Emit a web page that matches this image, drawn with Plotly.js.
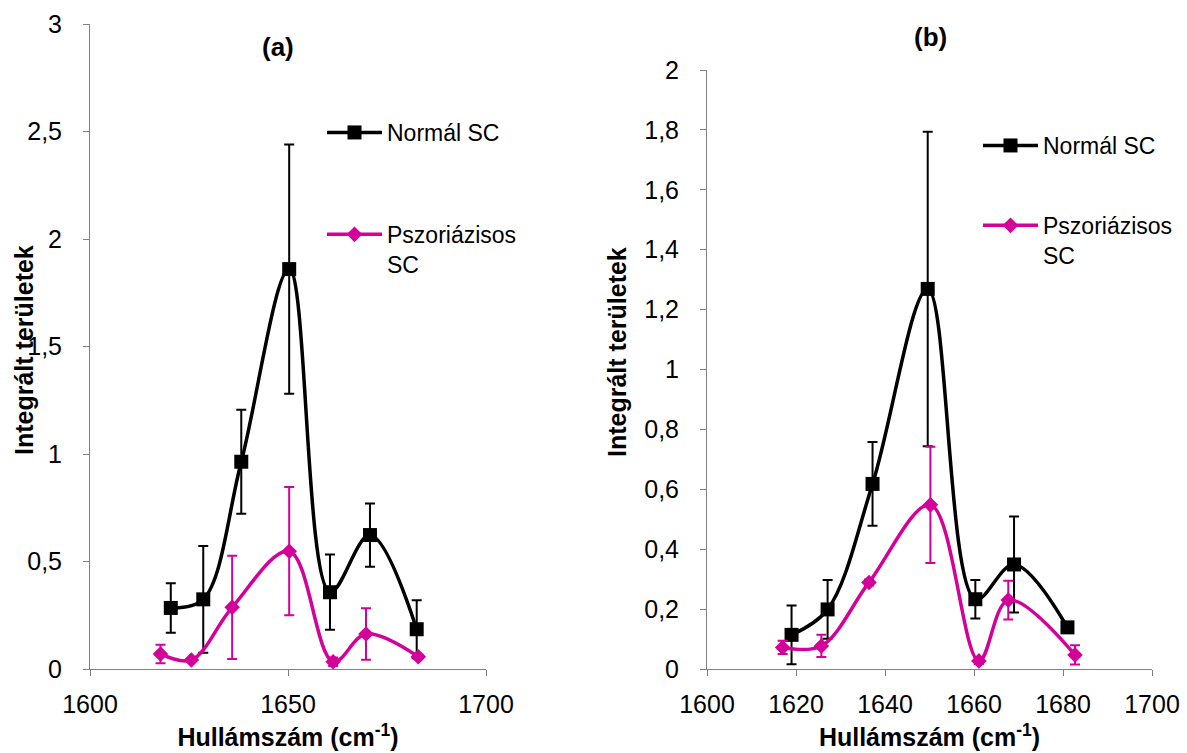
<!DOCTYPE html>
<html>
<head>
<meta charset="utf-8">
<script src="https://cdn.plot.ly/plotly-3.0.1.min.js"></script>
<style>
  html, body { margin: 0; padding: 0; background: #fff; }
  #chart { width: 1187px; height: 753px; }
</style>
</head>
<body>
<div id="chart"></div>
<script>
// ---- Panel (a) data ----
const aNormalX   = [1620.4, 1628.6, 1638.2, 1650.3, 1660.6, 1670.7, 1682.5];
const aNormalY   = [0.284, 0.324, 0.964, 1.860, 0.357, 0.623, 0.185];
const aNormalErr = [0.115, 0.248, 0.242, 0.580, 0.175, 0.147, 0.135];

const aPsorX   = [1617.8, 1625.6, 1635.9, 1650.3, 1661.4, 1669.7, 1682.9];
const aPsorY   = [0.070, 0.042, 0.287, 0.548, 0.034, 0.163, 0.057];
const aPsorErr = [0.043, 0.005, 0.240, 0.298, 0.020, 0.120, 0.010];

// ---- Panel (b) data ----
const bNormalX   = [1619.0, 1627.1, 1637.2, 1649.6, 1660.3, 1669.0, 1681.0];
const bNormalY   = [0.114, 0.199, 0.618, 1.269, 0.233, 0.349, 0.139];
const bNormalErr = [0.098, 0.098, 0.140, 0.525, 0.064, 0.160, 0.015];

const bPsorX   = [1617.0, 1625.7, 1636.4, 1650.2, 1661.1, 1667.7, 1682.7];
const bPsorY   = [0.072, 0.077, 0.289, 0.548, 0.027, 0.230, 0.047];
const bPsorErr = [0.022, 0.037, 0.010, 0.194, 0.010, 0.065, 0.032];

const seriesNames = ["Normál SC", "Pszoriázisos<br>SC"];
const panelTitles = ["(a)", "(b)"];
const xTitle = "Hullámszám (cm<sup>-1</sup>)";
const yTitle = "Integrált területek";

const BLACK = "#000000";
const PINK = "#D4009A";
const AXIS = "#808080";
const FONT = "Liberation Sans, Arial, sans-serif";

function normalTrace(x, y, err, xa, ya, legend) {
  return {
    x: x, y: y, xaxis: xa, yaxis: ya, legend: legend,
    name: seriesNames[0], legendgroup: "n" + legend,
    type: "scatter", mode: "lines+markers",
    line: { color: BLACK, width: 3.5, shape: "spline", smoothing: 1 },
    marker: { symbol: "square", size: 14, color: BLACK },
    error_y: { type: "data", array: err, visible: true, color: BLACK, thickness: 2, width: 5 },
    hoverinfo: "x+y"
  };
}
function psorTrace(x, y, err, xa, ya, legend) {
  return {
    x: x, y: y, xaxis: xa, yaxis: ya, legend: legend,
    name: seriesNames[1], legendgroup: "p" + legend,
    type: "scatter", mode: "lines+markers",
    line: { color: PINK, width: 3.5, shape: "spline", smoothing: 1 },
    marker: { symbol: "diamond", size: 12, color: PINK },
    error_y: { type: "data", array: err, visible: true, color: PINK, thickness: 2, width: 5 },
    hoverinfo: "x+y"
  };
}

const data = [
  normalTrace(aNormalX, aNormalY, aNormalErr, "x", "y", "legend"),
  psorTrace(aPsorX, aPsorY, aPsorErr, "x", "y", "legend"),
  normalTrace(bNormalX, bNormalY, bNormalErr, "x2", "y2", "legend2"),
  psorTrace(bPsorX, bPsorY, bPsorErr, "x2", "y2", "legend2")
];

const W = 1187, H = 753;
function axisCommon() {
  return {
    showgrid: false, zeroline: false, showline: true,
    linecolor: AXIS, linewidth: 1,
    ticks: "outside", ticklen: 6, tickcolor: AXIS, tickwidth: 1,
    tickfont: { family: FONT, size: 25, color: "#000" }
  };
}
const titleFont = { family: FONT, size: 25, color: "#000", weight: "bold" };

const layout = {
  width: W, height: H,
  margin: { l: 0, r: 0, t: 0, b: 0 },
  paper_bgcolor: "#fff", plot_bgcolor: "#fff",
  separators: ", ",
  font: { family: FONT, color: "#000" },
  showlegend: true,
  xaxis: Object.assign(axisCommon(), {
    domain: [90 / W, 486 / W], anchor: "y", range: [1600, 1700],
    tick0: 1600, dtick: 50, ticklabelstandoff: 7,
    title: { text: "<b>" + xTitle + "</b>", font: titleFont, standoff: 11 }
  }),
  yaxis: Object.assign(axisCommon(), {
    domain: [(H - 669) / H, (H - 24) / H], anchor: "x", range: [0, 3],
    tick0: 0, dtick: 0.5, ticklabelstandoff: 16
  }),
  xaxis2: Object.assign(axisCommon(), {
    domain: [707 / W, 1152 / W], anchor: "y2", range: [1600, 1700],
    tick0: 1600, dtick: 20, ticklabelstandoff: 7,
    title: { text: "<b>" + xTitle + "</b>", font: titleFont, standoff: 11 }
  }),
  yaxis2: Object.assign(axisCommon(), {
    domain: [(H - 669) / H, (H - 70) / H], anchor: "x2", range: [0, 2],
    tick0: 0, dtick: 0.2, ticklabelstandoff: 16
  }),
  legend: {
    x: 322 / W, xanchor: "left", y: (H - 111) / H, yanchor: "top",
    bgcolor: "rgba(0,0,0,0)", borderwidth: 0,
    font: { family: FONT, size: 23, color: "#000" },
    traceorder: "grouped", tracegroupgap: 69, valign: "top", itemwidth: 55
  },
  legend2: {
    x: 978 / W, xanchor: "left", y: (H - 124) / H, yanchor: "top",
    bgcolor: "rgba(0,0,0,0)", borderwidth: 0,
    font: { family: FONT, size: 23, color: "#000" },
    traceorder: "grouped", tracegroupgap: 47, valign: "top", itemwidth: 55
  },
  annotations: [
    { text: "<b>" + panelTitles[0] + "</b>", xref: "paper", yref: "paper",
      x: 278 / W, y: (H - 47) / H, xanchor: "center", yanchor: "middle",
      showarrow: false, font: { family: FONT, size: 26, color: "#000" } },
    { text: "<b>" + panelTitles[1] + "</b>", xref: "paper", yref: "paper",
      x: 930 / W, y: (H - 37) / H, xanchor: "center", yanchor: "middle",
      showarrow: false, font: { family: FONT, size: 26, color: "#000" } },
    { text: "<b>" + yTitle + "</b>", xref: "paper", yref: "paper",
      x: 24 / W, y: (H - 350) / H, xanchor: "center", yanchor: "middle",
      textangle: -90, showarrow: false, font: { family: FONT, size: 25, color: "#000" } },
    { text: "<b>" + yTitle + "</b>", xref: "paper", yref: "paper",
      x: 617 / W, y: (H - 352) / H, xanchor: "center", yanchor: "middle",
      textangle: -90, showarrow: false, font: { family: FONT, size: 25, color: "#000" } }
  ]
};

Plotly.newPlot("chart", data, layout, { displayModeBar: false, staticPlot: true });
</script>
</body>
</html>
